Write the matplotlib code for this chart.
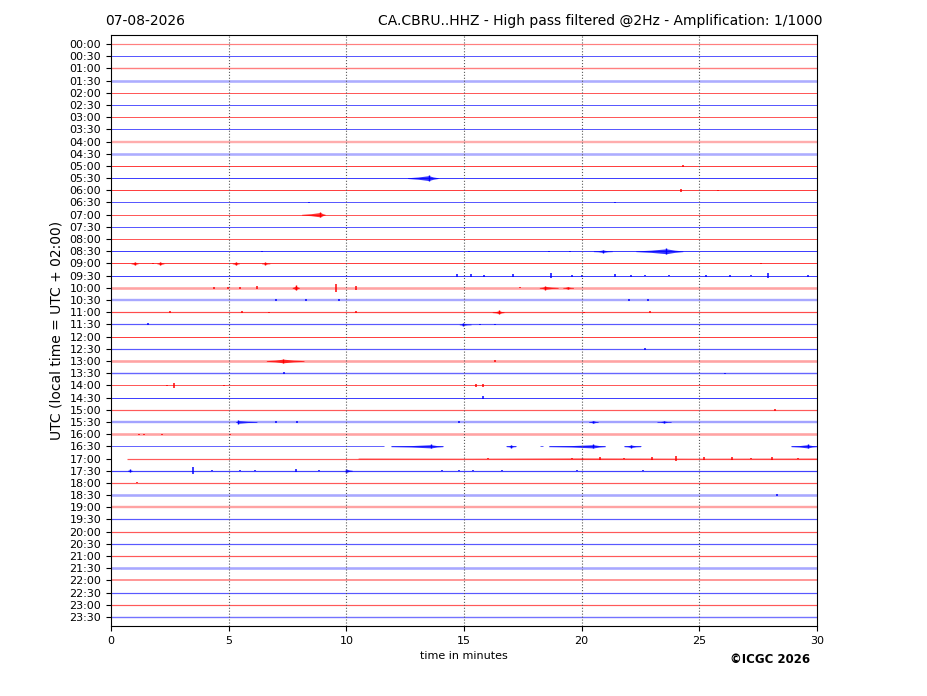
import matplotlib
matplotlib.use("Agg")
import matplotlib.pyplot as plt

# ---------------- data ----------------
row_labels = ["00:00", "00:30", "01:00", "01:30", "02:00", "02:30", "03:00", "03:30",
              "04:00", "04:30", "05:00", "05:30", "06:00", "06:30", "07:00", "07:30",
              "08:00", "08:30", "09:00", "09:30", "10:00", "10:30", "11:00", "11:30",
              "12:00", "12:30", "13:00", "13:30", "14:00", "14:30", "15:00", "15:30",
              "16:00", "16:30", "17:00", "17:30", "18:00", "18:30", "19:00", "19:30",
              "20:00", "20:30", "21:00", "21:30", "22:00", "22:30", "23:00", "23:30"]
row_colors = ["r", "b"] * 24
# apparent noise thickness (px) and opacity of each trace
row_width = [1.2, 1.0, 1.4, 2.6, 1.0, 1.0, 1.0, 1.0,
             2.4, 2.6, 1.0, 1.0, 1.0, 1.0, 1.0, 1.0,
             1.0, 1.0, 1.0, 1.0, 2.6, 2.4, 1.2, 1.2,
             1.0, 1.2, 2.6, 1.4, 1.0, 1.0, 1.2, 2.4,
             2.6, 1.0, 1.2, 1.2, 1.2, 2.6, 2.4, 1.2,
             1.2, 1.2, 1.2, 2.6, 1.6, 1.2, 1.2, 1.4]
row_alpha = [0.5, 0.65, 0.5, 0.32, 0.65, 0.65, 0.65, 0.65,
             0.32, 0.32, 0.75, 0.75, 0.75, 0.65, 0.65, 0.65,
             0.65, 0.75, 0.75, 0.75, 0.36, 0.34, 0.7, 0.65,
             0.75, 0.65, 0.36, 0.6, 0.65, 0.75, 0.65, 0.36,
             0.36, 0.6, 0.65, 0.75, 0.65, 0.34, 0.36, 0.65,
             0.65, 0.65, 0.65, 0.34, 0.5, 0.65, 0.65, 0.55]

# data gaps: (row, start_min, end_min) of recorded segments for traces with gaps
gap_rows = [33, 34]
segments = [(33, 0.0, 11.6), (33, 11.9, 14.1), (33, 16.8, 17.2), (33, 18.25, 18.35),
            (33, 18.6, 21.0), (33, 21.8, 22.5), (33, 28.9, 30.0),
            (34, 0.67, 30.0)]

# bursts: (row, start_min, peak_min, end_min, amplitude in trace spacings)
bursts = [(11, 12.6, 13.5, 13.9, 0.2), (14, 8.1, 8.9, 9.1, 0.18),
          (17, 20.5, 20.9, 21.3, 0.1), (17, 22.3, 23.6, 24.3, 0.2),
          (18, 0.85, 1.0, 1.15, 0.11), (18, 1.95, 2.1, 2.25, 0.11),
          (18, 5.15, 5.3, 5.45, 0.11), (18, 6.4, 6.55, 6.75, 0.09),
          (20, 7.7, 7.85, 8.0, 0.16), (20, 18.2, 18.45, 19.0, 0.12), (20, 19.2, 19.4, 19.65, 0.09),
          (22, 16.2, 16.5, 16.7, 0.12), (23, 14.8, 14.95, 15.3, 0.09),
          (26, 6.6, 7.32, 8.2, 0.15), (31, 5.3, 5.41, 6.2, 0.11),
          (31, 20.3, 20.5, 20.7, 0.09), (31, 23.2, 23.5, 23.8, 0.07),
          (33, 11.9, 13.6, 14.1, 0.13), (33, 16.8, 17.0, 17.2, 0.09),
          (33, 18.6, 20.5, 21.0, 0.13), (33, 21.8, 22.1, 22.5, 0.1),
          (33, 28.9, 29.6, 30.0, 0.13), (34, 10.5, 20.0, 30.0, 0.04),
          (35, 0.7, 0.8, 0.9, 0.09), (35, 9.95, 10.0, 10.25, 0.13)]

# spikes: (row, minute, amplitude in trace spacings)
spikes = [(10, 24.3, 0.05), (12, 24.2, 0.1), (12, 25.8, 0.04), (13, 8.4, 0.05), (13, 21.4, 0.06),
          (17, 6.4, 0.05), (17, 15.2, 0.05), (17, 18.6, 0.05), (17, 19.5, 0.05),
          (18, 1.8, 0.05), (18, 27.6, 0.06),
          (19, 14.7, 0.1), (19, 15.3, 0.1), (19, 15.85, 0.08), (19, 17.1, 0.1), (19, 18.7, 0.2),
          (19, 19.6, 0.08), (19, 20.0, 0.08), (19, 21.4, 0.1), (19, 22.1, 0.08), (19, 22.7, 0.06),
          (19, 23.7, 0.06), (19, 25.3, 0.08), (19, 26.3, 0.08), (19, 27.2, 0.06), (19, 27.9, 0.2),
          (19, 29.6, 0.08),
          (20, 4.37, 0.1), (20, 4.98, 0.1), (20, 5.5, 0.1), (20, 6.2, 0.12), (20, 9.55, 0.35),
          (20, 10.4, 0.15), (20, 17.4, 0.05),
          (21, 7.0, 0.05), (21, 8.3, 0.05), (21, 9.7, 0.05), (21, 22.0, 0.05), (21, 22.8, 0.05),
          (22, 2.5, 0.06), (22, 5.55, 0.06), (22, 6.7, 0.05), (22, 10.4, 0.06), (22, 20.1, 0.05),
          (22, 22.9, 0.06),
          (23, 1.59, 0.08), (23, 15.7, 0.05), (23, 16.3, 0.05),
          (25, 22.7, 0.1), (26, 16.3, 0.05), (27, 7.37, 0.1), (27, 26.1, 0.04),
          (28, 2.4, 0.05), (28, 2.69, 0.22), (28, 4.8, 0.04), (28, 15.5, 0.1), (28, 15.8, 0.15),
          (29, 15.8, 0.12), (30, 28.2, 0.08),
          (31, 7.0, 0.06), (31, 7.9, 0.05), (31, 14.8, 0.05),
          (32, 1.2, 0.05), (32, 1.4, 0.05), (32, 2.15, 0.05), (32, 5.05, 0.04),
          (34, 16.0, 0.08), (34, 19.6, 0.07), (34, 20.8, 0.1), (34, 21.8, 0.08), (34, 23.0, 0.1),
          (34, 24.0, 0.2), (34, 25.2, 0.1), (34, 26.4, 0.15), (34, 27.2, 0.07), (34, 28.1, 0.1),
          (34, 29.2, 0.08),
          (35, 3.5, 0.3), (35, 4.3, 0.05), (35, 5.5, 0.06), (35, 6.1, 0.06), (35, 7.86, 0.1),
          (35, 8.85, 0.06), (35, 14.05, 0.05), (35, 14.8, 0.06), (35, 15.4, 0.05), (35, 16.6, 0.05),
          (35, 19.8, 0.06), (35, 22.6, 0.06),
          (36, 1.1, 0.04), (37, 28.3, 0.08)]

x_ticks = [0, 5, 10, 15, 20, 25, 30]

# ---------------- plot ----------------
fig = plt.figure(figsize=(9.27, 6.96), dpi=100)
ax = fig.add_axes([111 / 927, 1 - 626 / 696, 706 / 927, 591 / 696])

n = len(row_labels)
for i in range(n):
    c = row_colors[i]
    if i in gap_rows:
        for (r, s, e) in segments:
            if r == i:
                ax.hlines(i, s, e, colors=c, linewidth=row_width[i] * 0.72, alpha=row_alpha[i])
    else:
        ax.hlines(i, 0, 30, colors=c, linewidth=row_width[i] * 0.72, alpha=row_alpha[i])

for (r, s, p, e, a) in bursts:
    c = row_colors[r]
    xs = [s, (s + p) / 2, p, (p + e) / 2, e]
    amps = [0.03, 0.45 * a, a, 0.45 * a, 0.03]
    ax.fill_between(xs, [r - v for v in amps], [r + v for v in amps],
                    color=c, alpha=0.8, linewidth=0)
    ax.vlines(p, r - a * 1.2, r + a * 1.2, colors=c, linewidth=1.0)

for (r, t, a) in spikes:
    ax.vlines(t, r - a, r + a, colors=row_colors[r], linewidth=1.2, alpha=0.9)

ax.set_xlim(0, 30)
ax.set_ylim(n - 1 + 0.74, -0.74)
ax.set_yticks(range(n))
ax.set_yticklabels(row_labels, fontsize=8)
ax.set_xticks(x_ticks)
ax.set_xticklabels([str(v) for v in x_ticks], fontsize=8)
for v in x_ticks[1:-1]:
    ax.axvline(v, color="0.35", linestyle=":", linewidth=0.8)
ax.set_xlabel("time in minutes", fontsize=8)
ax.set_ylabel("UTC (local time = UTC + 02:00)", fontsize=10)

fig.text(105 / 927, 1 - 25 / 696, "07-08-2026", fontsize=10, ha="left", va="baseline")
fig.text(822 / 927, 1 - 25 / 696, "CA.CBRU..HHZ - High pass filtered @2Hz - Amplification: 1/1000",
         fontsize=10, ha="right", va="baseline")
fig.text(770 / 927, 1 - 663 / 696, "\u00a9ICGC 2026", fontsize=8.5, fontweight="bold",
         ha="center", va="baseline")

fig.savefig("out.png", dpi=100)
